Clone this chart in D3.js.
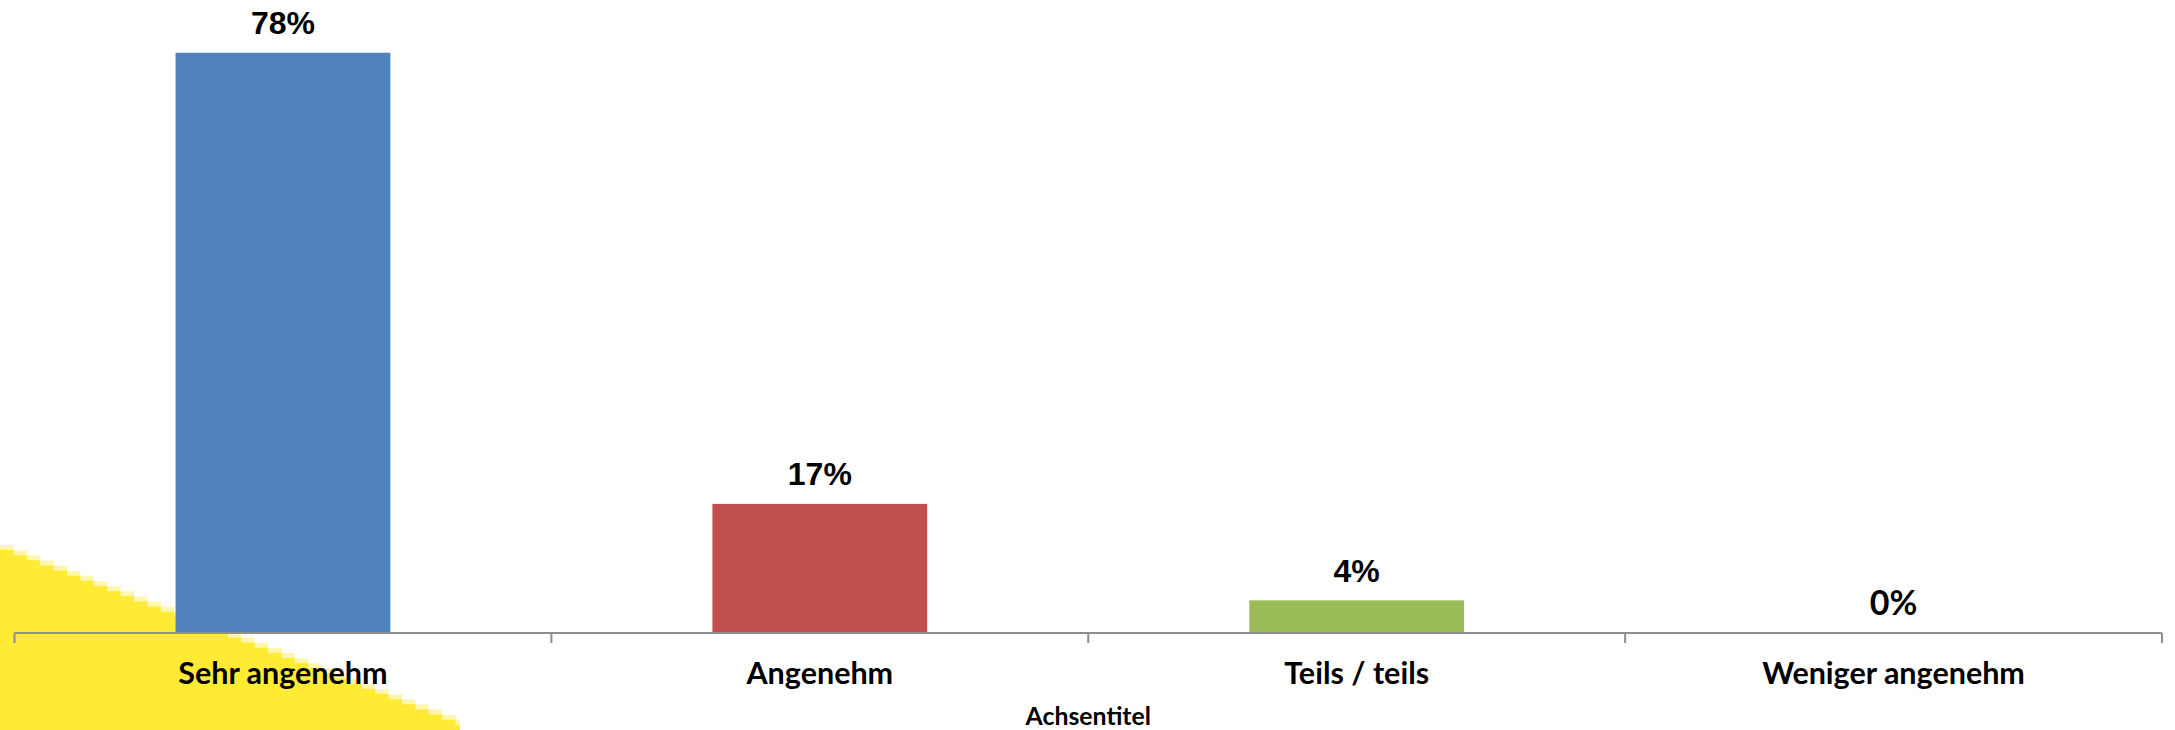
<!DOCTYPE html>
<html><head><meta charset="utf-8">
<script src="https://cdn.jsdelivr.net/npm/d3@7/dist/d3.min.js"></script>
<style>html,body{margin:0;padding:0;background:#fff;overflow:hidden}</style>
</head><body>
<svg id="chart" width="2175" height="730"></svg>
<script>
const categories = ["Sehr angenehm", "Angenehm", "Teils / teils", "Weniger angenehm"];
const values = [78.2, 17.4, 4.4, 0];
const colors = ["#4F81BD", "#C0504D", "#9BBB59", "#8064A2"];
const axisTitle = "Achsentitel";

const W = 2175, H = 730;
const svg = d3.select("#chart");
const left = 14.5, right = 2162, baseY = 633, topY = 39.4;

// decorative yellow stepped wedge in lower-left corner
(function(){
  const x0 = 0, y0 = 550, x1 = 460, y1 = 730, stepW = 13.4;
  const n = Math.ceil((x1 - x0) / stepW);
  const pts = [[x0, H]];
  for (let i = 0; i < n; i++) {
    const xa = x0 + i * stepW, xb = Math.min(x1, xa + stepW);
    const yy = y0 + (y1 - y0) * i / n;
    pts.push([xa, yy], [xb, yy]);
  }
  pts.push([x1, H]);
  const light = pts.map(p => [p[0], p[1] - 5]);
  svg.append("path").attr("d", d3.line()(light) + "Z").attr("fill", "#FFF7B0");
  svg.append("path").attr("d", d3.line()(pts) + "Z").attr("fill", "#FFEB33");
})();

const xBand = d3.scaleBand().domain(categories).range([left, right]).padding(0);
const xBar = d3.scaleBand().domain(categories).range([left, right]).paddingInner(0.6).paddingOuter(0.3);
const y = d3.scaleLinear().domain([0, 80]).range([baseY, topY]);

svg.selectAll("rect.bar").data(categories).enter().append("rect")
  .attr("x", d => xBar(d))
  .attr("width", xBar.bandwidth())
  .attr("y", (d, i) => y(values[i]))
  .attr("height", (d, i) => baseY - y(values[i]))
  .attr("fill", (d, i) => colors[i]);

// axis line + ticks
const axisG = svg.append("g");
axisG.append("line").attr("x1", left).attr("x2", right).attr("y1", baseY).attr("y2", baseY)
  .attr("stroke", "#8E8E8E").attr("stroke-width", 2);
const tickXs = categories.map(c => xBand(c)).concat([xBand(categories[categories.length-1]) + xBand.bandwidth()]);
axisG.selectAll("line.tick").data(tickXs).enter().append("line")
  .attr("x1", d => d).attr("x2", d => d).attr("y1", baseY).attr("y2", baseY + 10)
  .attr("stroke", "#8E8E8E").attr("stroke-width", 2);

// data labels
svg.selectAll("text.val").data(categories).enter().append("text")
  .attr("x", d => xBar(d) + xBar.bandwidth() / 2)
  .attr("y", (d, i) => y(values[i]) - 18.5)
  .attr("text-anchor", "middle")
  .attr("font-family", (d, i) => values[i] === 0 ? "Lato, sans-serif" : "'Liberation Sans', Arial, sans-serif")
  .attr("font-size", (d, i) => values[i] === 0 ? 34 : 32)
  .attr("font-weight", "bold")
  .attr("fill", "#000")
  .text((d, i) => Math.round(values[i]) + "%");

// category labels
svg.selectAll("text.cat").data(categories).enter().append("text")
  .attr("x", d => xBand(d) + xBand.bandwidth() / 2)
  .attr("y", 684)
  .attr("text-anchor", "middle")
  .attr("font-family", "Lato, sans-serif")
  .attr("font-size", 30.5)
  .attr("font-weight", "bold")
  .attr("fill", "#000")
  .text(d => d);

svg.append("text")
  .attr("x", (left + right) / 2).attr("y", 725)
  .attr("text-anchor", "middle")
  .attr("font-family", "Lato, sans-serif")
  .attr("font-size", 24.8)
  .attr("font-weight", "bold")
  .attr("fill", "#000")
  .text(axisTitle);
</script>
</body></html>
